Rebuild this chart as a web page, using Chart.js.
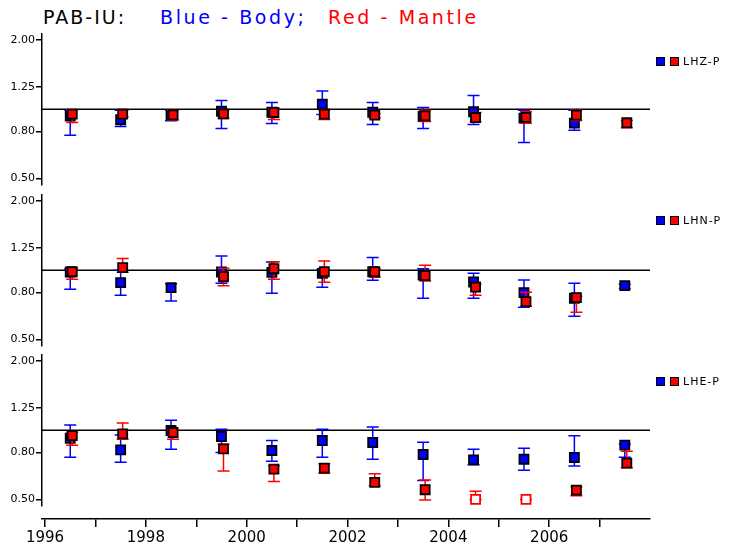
<!DOCTYPE html>
<html>
<head>
<meta charset="utf-8">
<script src="https://cdn.jsdelivr.net/npm/chart.js@4.4.1/dist/chart.umd.min.js"></script>
<style>
  body { margin: 0; background: #fff; }
  #wrap { position: relative; width: 733px; height: 551px; overflow: hidden; font-family: "DejaVu Sans", sans-serif; }
  #wrap canvas { position: absolute; left: 0; }
  .title { position: absolute; top: 8px; font-size: 19px; line-height: 19px; letter-spacing: 2.6px; white-space: pre; }
  .sq { position: absolute; width: 7px; height: 7px; border: 1px solid #000; }
  .lab { position: absolute; left: 683px; font-size: 11px; line-height: 11px; letter-spacing: 1px; white-space: nowrap; }
</style>
</head>
<body>
<div id="wrap">
  <div class="title" style="left:43px;color:#000;letter-spacing:2px">PAB-IU:</div>
  <div class="title" style="left:160px;color:#0000ff">Blue - Body;</div>
  <div class="title" style="left:328px;color:#ff0000">Red - Mantle</div>
</div>
<script>
// anos (meio do ano) de cada medida
const years = [1996.5, 1997.5, 1998.5, 1999.5, 2000.5, 2001.5, 2002.5, 2003.5, 2004.5, 2005.5, 2006.5, 2007.5];
const channels = ['LHZ-P', 'LHN-P', 'LHE-P'];
const yTicks = [0.5, 0.8, 1.25, 2.0];
const xTicks = [1996, 1997, 1998, 1999, 2000, 2001, 2002, 2003, 2004, 2005, 2006, 2007];
const refValue = 1.0;

// LHZ-P
const lhzBlue   = [0.933, 0.90, 0.94, 0.98, 0.97, 1.052, 0.97, 0.93, 0.975, 0.915, 0.87, null];
const lhzBlueLo = [0.77, 0.842, 0.89, 0.825, 0.867, 0.949, 0.859, 0.825, 0.859, 0.717, 0.81, null];
const lhzBlueHi = [0.991, 0.99, 0.99, 1.09, 1.07, 1.2, 1.07, 1.018, 1.147, 0.99, 0.99, null];
const lhzRed    = [0.952, 0.952, 0.946, 0.955, 0.968, 0.952, 0.943, 0.936, 0.92, 0.922, 0.943, 0.873];
const lhzRedLo  = [0.876, 0.927, 0.897, 0.912, 0.903, 0.903, 0.918, 0.885, 0.882, 0.868, 0.894, 0.83];
const lhzRedHi  = [0.991, 0.99, 0.99, 0.99, 1.004, 0.99, 0.958, 0.99, 0.968, 0.978, 0.99, 0.894];

// LHN-P
const lhnBlue   = [0.982, 0.883, 0.84, 0.982, 0.979, 0.969, 0.985, 0.953, 0.889, 0.799, 0.755, 0.857];
const lhnBlueLo = [0.826, 0.778, 0.735, 0.877, 0.794, 0.843, 0.904, 0.755, 0.755, 0.69, 0.63, 0.832];
const lhnBlueHi = [1.012, 1.0, 0.874, 1.153, 1.085, 1.0, 1.137, 1.015, 0.969, 0.906, 0.877, 0.868];
const lhnRed    = [0.985, 1.026, null, 0.937, 1.015, 0.985, 0.985, 0.947, 0.845, 0.73, 0.76, null];
const lhnRedLo  = [0.913, 0.979, null, 0.857, 0.913, 0.886, 0.931, 0.898, 0.778, 0.697, 0.656, null];
const lhnRedHi  = [1.01, 1.126, null, 1.019, 1.089, 1.096, 1.015, 1.05, 0.868, 0.801, 0.77, null];

// LHE-P
const lheBlue   = [0.923, 0.821, 0.997, 0.939, 0.816, 0.902, 0.884, 0.784, 0.743, 0.748, 0.761, 0.861];
const lheBlueLo = [0.763, 0.726, 0.827, 0.8, 0.733, 0.763, 0.748, 0.605, 0.707, 0.67, 0.698, 0.763];
const lheBlueHi = [1.055, 0.954, 1.105, 1.01, 0.902, 1.01, 1.034, 0.887, 0.827, 0.835, 0.945, 0.869];
const lheRed    = [0.948, 0.964, 0.977, 0.83, 0.677, 0.684, 0.593, 0.551, 0.5, 0.5, 0.549, 0.719];
const lheRedLo  = [0.861, 0.914, 0.914, 0.664, 0.598, 0.65, 0.574, 0.497, 0.5, 0.5, 0.519, 0.686];
const lheRedHi  = [0.98, 1.076, 1.0, 0.869, 0.7, 0.714, 0.646, 0.607, 0.543, 0.5, 0.566, 0.811];
const lheRedOpen = [false, false, false, false, false, false, false, false, true, true, false, false];

const panels = [
    { blue: [lhzBlue, lhzBlueLo, lhzBlueHi], red: [lhzRed, lhzRedLo, lhzRedHi], open: null },
    { blue: [lhnBlue, lhnBlueLo, lhnBlueHi], red: [lhnRed, lhnRedLo, lhnRedHi], open: null },
    { blue: [lheBlue, lheBlueLo, lheBlueHi], red: [lheRed, lheRedLo, lheRedHi], open: lheRedOpen }
];

const X_MIN = 1995.94, X_MAX = 2008.0;
const Y_MIN = 0.468, Y_MAX = 2.125;
const PAD = 15;
const AREA_H = 151;
const panelTops = [34, 195, 355];
const legendTops = [57, 216, 377];

// barras de erro desenhadas antes dos quadrados
const errorBars = {
    id: 'errorBars',
    beforeDatasetDraw(chart, args) {
        const ds = chart.data.datasets[args.index];
        if (!ds.errLo) return;
        const ctx = chart.ctx, ys = chart.scales.y;
        ctx.save();
        ctx.strokeStyle = ds.errColor;
        ctx.lineWidth = 1.5;
        args.meta.data.forEach((pt, i) => {
            const lo = ds.errLo[i], hi = ds.errHi[i];
            if (lo == null || hi == null || pt.skip) return;
            const x = pt.x, y1 = ys.getPixelForValue(lo), y2 = ys.getPixelForValue(hi);
            ctx.beginPath();
            ctx.moveTo(x, y1); ctx.lineTo(x, y2);
            ctx.moveTo(x - 6, y1); ctx.lineTo(x + 6, y1);
            ctx.moveTo(x - 6, y2); ctx.lineTo(x + 6, y2);
            ctx.stroke();
        });
        ctx.restore();
    }
};

// linha de referência em 1.0
const refLine = {
    id: 'refLine',
    beforeDatasetsDraw(chart) {
        const { ctx, chartArea: a, scales: { y } } = chart;
        const py = y.getPixelForValue(refValue);
        ctx.save();
        ctx.strokeStyle = '#000';
        ctx.lineWidth = 1.5;
        ctx.beginPath();
        ctx.moveTo(a.left, py);
        ctx.lineTo(a.right, py);
        ctx.stroke();
        ctx.restore();
    }
};

const wrap = document.getElementById('wrap');

function addCanvas(top, height) {
    const c = document.createElement('canvas');
    c.style.top = top + 'px';
    c.style.width = '733px';
    c.style.height = height + 'px';
    c.width = 733;
    c.height = height;
    wrap.appendChild(c);
    return c.getContext('2d');
}

function series(vals, shift) {
    return years.map((yr, i) => ({ x: yr + shift, y: vals[i] }));
}

panels.forEach((p, k) => {
    const ctx = addCanvas(panelTops[k] - PAD, AREA_H + 2 * PAD);
    const open = p.open || years.map(() => false);
    new Chart(ctx, {
        type: 'scatter',
        data: {
            datasets: [
                {
                    data: series(p.blue[0], 0),
                    errLo: p.blue[1], errHi: p.blue[2], errColor: '#0000ff',
                    pointStyle: 'rect', pointRadius: 6.4, borderWidth: 1.8,
                    backgroundColor: '#0000ff', borderColor: '#000',
                    order: 2
                },
                {
                    data: series(p.red[0], 0.04),
                    errLo: p.red[1], errHi: p.red[2], errColor: '#ff0000',
                    pointStyle: 'rect', pointRadius: 6.4, borderWidth: 1.8,
                    backgroundColor: open.map(o => o ? '#ffffff' : '#ff0000'),
                    borderColor: open.map(o => o ? '#ff0000' : '#000'),
                    order: 1
                }
            ]
        },
        options: {
            responsive: false,
            animation: false,
            events: [],
            layout: { padding: { left: 0, right: 83, top: PAD, bottom: PAD } },
            plugins: { legend: { display: false }, tooltip: { enabled: false } },
            scales: {
                x: { type: 'linear', min: X_MIN, max: X_MAX, display: false },
                y: {
                    type: 'logarithmic', min: Y_MIN, max: Y_MAX,
                    afterFit: s => { s.width = 42; },
                    afterBuildTicks: s => { s.ticks = yTicks.map(v => ({ value: v })); },
                    ticks: {
                        callback: v => Number(v).toFixed(2),
                        color: '#000', padding: 1, autoSkip: false,
                        font: { family: 'DejaVu Sans', size: 11 }
                    },
                    grid: { drawOnChartArea: false, drawTicks: true, tickLength: 6, color: '#000', lineWidth: 1.5 },
                    border: { display: true, color: '#000', width: 1.5 }
                }
            }
        },
        plugins: [refLine, errorBars]
    });

    // rótulo do canal à direita
    const t = legendTops[k];
    const b = document.createElement('div');
    b.className = 'sq'; b.style.left = '656px'; b.style.top = t + 'px'; b.style.background = '#0000ff';
    const r = document.createElement('div');
    r.className = 'sq'; r.style.left = '670px'; r.style.top = t + 'px'; r.style.background = '#ff0000';
    const l = document.createElement('div');
    l.className = 'lab'; l.style.top = (t - 1) + 'px'; l.textContent = channels[k];
    wrap.append(b, r, l);
});

// eixo dos anos em baixo
const axisCtx = addCanvas(505, 46);
new Chart(axisCtx, {
    type: 'scatter',
    data: { datasets: [] },
    options: {
        responsive: false,
        animation: false,
        events: [],
        layout: { padding: { left: 42, right: 83, top: 4, bottom: 0 } },
        plugins: { legend: { display: false }, tooltip: { enabled: false } },
        scales: {
            x: {
                type: 'linear', min: X_MIN, max: X_MAX, position: 'bottom',
                afterFit: s => { s.height = 32; },
                afterBuildTicks: s => { s.ticks = xTicks.map(v => ({ value: v })); },
                ticks: {
                    callback: v => (v % 2 === 0 ? String(v) : ''),
                    color: '#000', padding: 2, autoSkip: false, maxRotation: 0,
                    font: { family: 'DejaVu Sans', size: 15 }
                },
                grid: { drawOnChartArea: false, drawTicks: true, tickLength: 8, color: '#000', lineWidth: 1.5 },
                border: { display: true, color: '#000', width: 1.5 }
            },
            y: { display: false, min: 0, max: 1 }
        }
    }
});
</script>
</body>
</html>
